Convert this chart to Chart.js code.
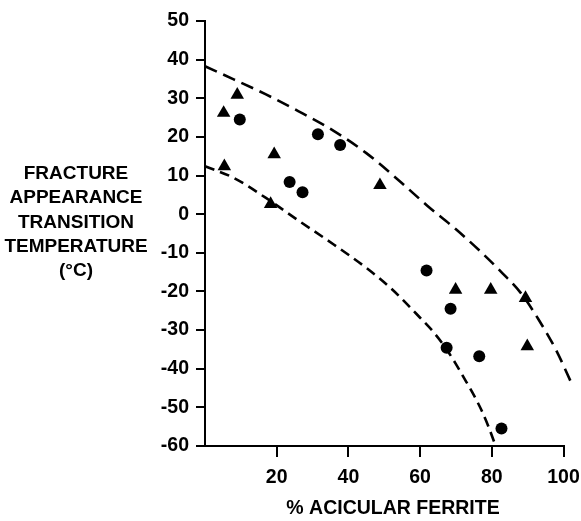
<!DOCTYPE html>
<html>
<head>
<meta charset="utf-8">
<script src="https://cdn.jsdelivr.net/npm/chart.js@4/dist/chart.umd.min.js"></script>
<style>
    html, body { margin: 0; padding: 0; background: #fff; }
    canvas { display: block; }
</style>
</head>
<body>
<canvas id="chart" width="581" height="521"></canvas>
<script>
// measured points (% acicular ferrite, FATT in degC)
const circleX = [9.7, 23.6, 27.2, 31.5, 37.7, 61.8, 67.4, 68.5, 76.5, 82.7];
const circleY = [24.5, 8.3, 5.7, 20.7, 17.9, -14.6, -34.6, -24.5, -36.8, -55.5];

const triangleX = [5.2, 5.4, 9.0, 18.3, 19.3, 48.8, 69.9, 79.7, 89.4, 89.9];
const triangleY = [26.2, 12.4, 30.9, 2.6, 15.5, 7.5, -19.6, -19.6, -21.7, -34.2];

// dashed scatter band
const upperX = [0, 8, 17, 26, 36, 45, 54, 62, 70, 77, 83, 88, 93, 98, 102.5];
const upperY = [38.3, 34.9, 31.0, 26.7, 21.5, 15.8, 8.8, 2.2, -3.9, -9.8, -15.3, -20.3, -27.2, -35.3, -44.3];

const lowerX = [0, 8, 17, 26, 36, 45, 52, 60, 64, 67.4, 70, 72, 74.5, 77, 79, 81];
const lowerY = [12.4, 9.4, 4.2, -1.6, -7.9, -13.9, -19.3, -26.8, -30.8, -35.0, -38.8, -42.0, -46.0, -50.5, -54.8, -59.8];

const X_TICKS = [20, 40, 60, 80, 100];
const Y_TITLE = ['FRACTURE', 'APPEARANCE', 'TRANSITION', 'TEMPERATURE', '(\u00B0C)'];
const X_TITLE = '% ACICULAR FERRITE';

const FONT = 'Liberation Sans, Arial, sans-serif';

function pts(xs, ys) {
    return xs.map((x, i) => ({ x: x, y: ys[i] }));
}

// the axis titles sit off-centre in the original, so draw them by hand
const titlePlugin = {
    id: 'titles',
    afterDraw(chart) {
        const ctx = chart.ctx;
        ctx.save();
        ctx.fillStyle = '#000';
        ctx.font = 'bold 19px ' + FONT;
        ctx.textAlign = 'center';
        ctx.textBaseline = 'middle';
        Y_TITLE.forEach((line, i) => {
            ctx.fillText(line, 76, 174 + i * 24.2);
        });
        ctx.font = 'bold 19.5px ' + FONT;
        ctx.fillText(X_TITLE, 393, 509);
        ctx.restore();
    }
};

new Chart(document.getElementById('chart'), {
    type: 'scatter',
    data: {
        datasets: [
            {
                data: pts(upperX, upperY),
                showLine: true,
                borderColor: '#000',
                borderWidth: 2.6,
                borderDash: [13, 7],
                cubicInterpolationMode: 'monotone',
                pointRadius: 0,
                clip: false
            },
            {
                data: pts(lowerX, lowerY),
                showLine: true,
                borderColor: '#000',
                borderWidth: 2.6,
                borderDash: [10, 6],
                cubicInterpolationMode: 'monotone',
                pointRadius: 0,
                clip: false
            },
            {
                data: pts(circleX, circleY),
                pointStyle: 'circle',
                pointRadius: 6,
                backgroundColor: '#000',
                borderColor: '#000',
                borderWidth: 0
            },
            {
                data: pts(triangleX, triangleY),
                pointStyle: 'triangle',
                pointRadius: 7.8,
                backgroundColor: '#000',
                borderColor: '#000',
                borderWidth: 0
            }
        ]
    },
    options: {
        responsive: false,
        animation: false,
        layout: {
            padding: { left: 0, right: 17.5, top: 21, bottom: 0 }
        },
        plugins: {
            legend: { display: false },
            tooltip: { enabled: false }
        },
        scales: {
            x: {
                type: 'linear',
                min: 0,
                max: 100,
                afterBuildTicks(scale) {
                    scale.ticks = [0].concat(X_TICKS).map(v => ({ value: v }));
                },
                afterFit(scale) {
                    scale.height = 75;
                    scale.paddingLeft = 0;
                    scale.paddingRight = 0;
                },
                ticks: {
                    color: '#000',
                    padding: 9,
                    maxRotation: 0,
                    font: { family: FONT, size: 19.5, weight: 'bold' },
                    callback: v => (v === 0 ? '' : v)
                },
                grid: {
                    drawOnChartArea: false,
                    drawTicks: true,
                    tickLength: 11,
                    lineWidth: 2,
                    color: ctx => (ctx.tick && ctx.tick.value === 0 ? 'rgba(0,0,0,0)' : '#000')
                },
                border: { display: true, color: '#000', width: 2 }
            },
            y: {
                type: 'linear',
                min: -60,
                max: 50,
                afterFit(scale) {
                    scale.width = 205;
                },
                ticks: {
                    stepSize: 10,
                    color: '#000',
                    padding: 7,
                    font: { family: FONT, size: 19.5, weight: 'bold' }
                },
                grid: {
                    drawOnChartArea: false,
                    drawTicks: true,
                    tickLength: 9,
                    lineWidth: 2,
                    color: '#000'
                },
                border: { display: true, color: '#000', width: 2 }
            }
        }
    },
    plugins: [titlePlugin]
});
</script>
</body>
</html>
